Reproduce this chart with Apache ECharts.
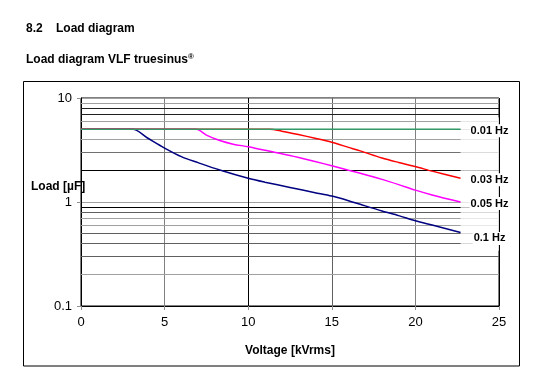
<!DOCTYPE html>
<html><head><meta charset="utf-8">
<script src="https://cdn.jsdelivr.net/npm/echarts@6/dist/echarts.min.js"></script>
<style>html,body{margin:0;padding:0;background:#fff}#c{width:544px;height:386px}</style>
</head><body><div id="c"></div>
<script>
// ---- data ----
const seriesNames = ['0.01 Hz', '0.03 Hz', '0.05 Hz', '0.1 Hz'];
const x001 = [0, 22.7];
const y001 = [5, 5];
const x003 = [0, 11.3, 12, 13, 14, 15, 16, 16.7, 18, 19, 20, 21, 22.7];
const y003 = [5, 5, 4.8, 4.45, 4.1, 3.75, 3.35, 3.1, 2.65, 2.4, 2.19, 1.98, 1.69];
const x005 = [0, 6.9, 7.5, 8.3, 9.1, 10, 11, 12.5, 14, 15, 16, 16.7, 18, 19, 20, 21, 22.7];
const y005 = [5, 5, 4.4, 3.9, 3.6, 3.4, 3.14, 2.8, 2.45, 2.23, 2.02, 1.89, 1.65, 1.47, 1.3, 1.17, 1.0];
const x01 = [0, 3.1, 4, 5, 6, 7, 8.3, 10, 11, 12.5, 14, 15, 16, 16.7, 18, 19, 20, 21, 22.7];
const y01 = [5, 5, 4.1, 3.3, 2.73, 2.39, 2.03, 1.69, 1.55, 1.38, 1.23, 1.14, 1.03, 0.95, 0.82, 0.74, 0.66, 0.6, 0.51];
const xTicks = [0, 5, 10, 15, 20, 25];
const yTicks = [0.1, 1, 10];
const minorGridValues = [9, 8, 7, 6, 5, 4, 3, 2, 0.9, 0.8, 0.7, 0.6, 0.5, 0.4, 0.3, 0.2];
const labelBox = { x0: 22.7, x1: 25, y0: 0.34, y1: 6.5 };

// ---- styles ----
const minorGridColors = ['#a0a0a0', '#202020', '#202020', '#a0a0a0', '#a0a0a0', '#a0a0a0', '#707070', '#000000',
                         '#000000', '#606060', '#a0a0a0', '#a0a0a0', '#606060', '#606060', '#606060', '#a0a0a0'];
const lineColors = ['#339966', '#ff0000', '#ff00ff', '#000080'];
const FONT = '"Liberation Sans", Arial, sans-serif';

const xs = [x001, x003, x005, x01];
const ys = [y001, y003, y005, y01];
const pairs = (xa, ya) => xa.map((v, i) => [v, ya[i]]);

const chart = echarts.init(document.getElementById('c'), null, { renderer: 'canvas' });

// draw order: 0.1 Hz first, 0.01 Hz (green) last so it stays on top of the flat part
const drawOrder = [3, 2, 1, 0];
const dataSeries = drawOrder.map(i => ({
  name: seriesNames[i],
  type: 'line',
  z: 3,
  data: pairs(xs[i], ys[i]),
  symbol: 'none',
  smooth: 0.3,
  lineStyle: { color: lineColors[i], width: 1.5 },
  itemStyle: { color: lineColors[i] },
  endLabel: {
    show: true,
    formatter: '{a}',
    align: 'center',
    distance: 29,
    offset: i === 3 ? [0, 6] : [0, 1.5],
    color: '#000',
    backgroundColor: '#fff',
    padding: [1, 1],
    fontFamily: FONT,
    fontWeight: 'bold',
    fontSize: 11
  }
}));

const option = {
  animation: false,
  backgroundColor: '#fff',
  textStyle: { fontFamily: FONT },
  title: [
    { text: '8.2', left: 21, top: 18, textStyle: { fontFamily: FONT, fontSize: 12, fontWeight: 'bold', color: '#000' } },
    { text: 'Load diagram', left: 51, top: 18, textStyle: { fontFamily: FONT, fontSize: 12, fontWeight: 'bold', color: '#000' } },
    { text: 'Load diagram VLF truesinus{sup|®}', left: 21, top: 48,
      textStyle: { fontFamily: FONT, fontSize: 12, fontWeight: 'bold', color: '#000',
        rich: { sup: { fontFamily: FONT, fontSize: 8, fontWeight: 'bold', color: '#000', verticalAlign: 'top', padding: [0, 0, 6, 0] } } } },
    { text: 'Load [µF]', left: 26, top: 176, textStyle: { fontFamily: FONT, fontSize: 12, fontWeight: 'bold', color: '#000' } }
  ],
  graphic: [
    { type: 'rect', shape: { x: 23.5, y: 81.5, width: 496, height: 284.5 }, style: { fill: 'none', stroke: '#000', lineWidth: 1 }, silent: true }
  ],
  grid: { left: 81, right: 45, top: 98, bottom: 80, show: true, borderColor: '#000', borderWidth: 1, backgroundColor: 'transparent' },
  xAxis: {
    type: 'value',
    min: xTicks[0],
    max: xTicks[xTicks.length - 1],
    interval: 5,
    axisLine: { show: true, lineStyle: { color: '#000', width: 1 } },
    axisTick: { show: true, inside: false, length: 4, lineStyle: { color: '#909090' } },
    axisLabel: { color: '#000', fontSize: 13, fontFamily: FONT, margin: 10 },
    splitLine: { show: true, lineStyle: { color: ['#808080', '#808080', '#000000', '#606060', '#808080', '#000000'], width: 1 } },
    name: 'Voltage [kVrms]',
    nameLocation: 'middle',
    nameGap: 39,
    nameTextStyle: { color: '#000', fontSize: 12, fontWeight: 'bold', fontFamily: FONT }
  },
  yAxis: {
    type: 'log',
    logBase: 10,
    min: yTicks[0],
    max: yTicks[yTicks.length - 1],
    axisLine: { show: true, lineStyle: { color: '#000', width: 1 } },
    axisTick: { show: true, inside: false, length: 4, lineStyle: { color: '#909090' } },
    axisLabel: { color: '#000', fontSize: 13, fontFamily: FONT, margin: 9, formatter: v => String(+v.toPrecision(3)) },
    splitLine: { show: true, lineStyle: { color: '#a0a0a0', width: 1 } },
    minorTick: { show: false },
    minorSplitLine: { show: false }
  },
  series: [
    {
      type: 'line', name: 'grid', z: 1, silent: true, data: [],
      markLine: {
        z: 1,
        silent: true, symbol: ['none', 'none'], animation: false,
        label: { show: false },
        data: minorGridValues.map((v, i) => ({ yAxis: v, lineStyle: { color: minorGridColors[i], width: 1, type: 'solid' } }))
      }
    },
    {
      type: 'line', name: 'labelbox', z: 2, silent: true, data: [],
      markArea: {
        z: 2,
        silent: true,
        itemStyle: { color: 'rgba(255,255,255,0.75)' },
        data: [[{ coord: [labelBox.x0, labelBox.y1] }, { coord: [labelBox.x1, labelBox.y0] }]]
      }
    }
  ].concat(dataSeries)
};
chart.setOption(option);
</script>
</body></html>
